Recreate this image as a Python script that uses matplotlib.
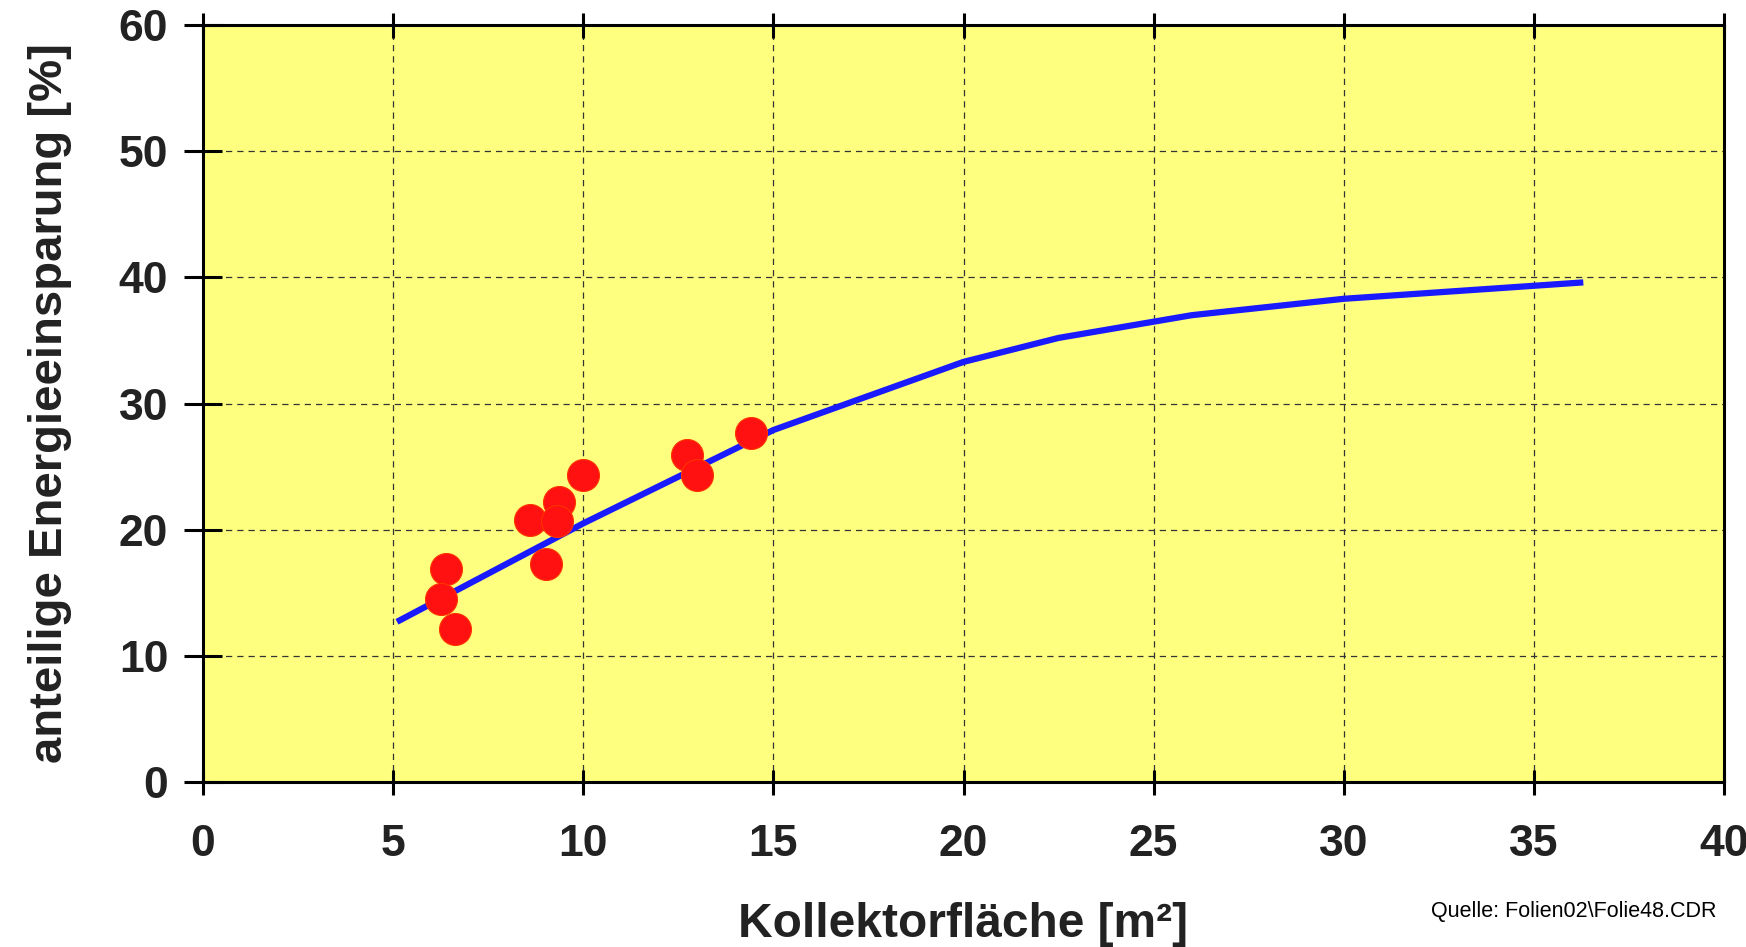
import matplotlib.pyplot as plt

plt.rcParams['font.family'] = ['Liberation Sans', 'DejaVu Sans']

# measured points
area_pts = [6.38, 6.27, 6.62, 8.61, 9.02, 9.37, 9.31, 9.99, 12.74, 13.0, 14.41]
saving_pts = [16.9, 14.5, 12.1, 20.8, 17.3, 22.2, 20.7, 24.3, 25.9, 24.3, 27.7]

# fitted curve
area_line = [5.1, 10.0, 15.0, 20.0, 22.5, 26.0, 30.0, 36.3]
saving_line = [12.7, 20.5, 27.9, 33.3, 35.2, 37.0, 38.3, 39.6]

x_ticks = [0, 5, 10, 15, 20, 25, 30, 35, 40]
y_ticks = [0, 10, 20, 30, 40, 50, 60]

TEXT = '#222222'

fig = plt.figure(figsize=(17.46, 9.47), dpi=100)
ax = fig.add_axes([0.1163, 0.1742, 0.8711, 0.7994])
ax.set_facecolor('#ffff7f')

ax.plot(area_line, saving_line, color='#1a1aff', lw=4.5, solid_capstyle='butt', zorder=3)
ax.plot(area_pts, saving_pts, 'o', color='#ff1111', mec='#ff3300', mew=0.8, ms=23, zorder=4)

ax.set_xlim(0, 40)
ax.set_ylim(0, 60)
ax.set_xticks(x_ticks)
ax.set_yticks(y_ticks)
ax.grid(True, ls=(0, (5, 4)), color='#333333', lw=0.9)
ax.set_axisbelow(True)

for s in ax.spines.values():
    s.set_linewidth(2.2)
    s.set_color('black')

ax.tick_params(axis='x', direction='inout', length=18, width=2.2, top=True,
               labelsize=32, pad=21, labelcolor=TEXT)
ax.tick_params(axis='y', direction='inout', length=28, width=2.2,
               labelsize=32, pad=11, labelcolor=TEXT)
for lab in ax.get_xticklabels() + ax.get_yticklabels():
    lab.set_fontweight('bold')

ax.set_xlabel('Kollektorfläche [m²]', fontsize=34.5, fontweight='bold', color=TEXT, labelpad=27)
ax.set_ylabel('anteilige Energieeinsparung [%]', fontsize=34, fontweight='bold', color=TEXT, labelpad=34)

fig.text(0.983, 0.037, 'Quelle: Folien02\\Folie48.CDR', ha='right', va='center',
         fontsize=15.5, color='black')

fig.savefig('out.png', dpi=100)
